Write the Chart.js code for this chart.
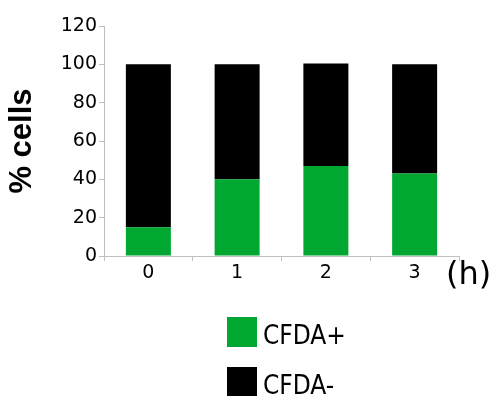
<!DOCTYPE html>
<html lang="en">

<head>
    <meta charset="UTF-8">
    <title>% cells CFDA</title>
    <style>
        body {
            margin: 0;
            padding: 0;
            background-color: #fff;
        }
    </style>
    <script src="https://cdn.jsdelivr.net/npm/chart.js"></script>
</head>

<body>
    <canvas id="cfdaChart" width="493" height="396"></canvas>

    <script>
        // data
        const hours = ['0', '1', '2', '3'];
        const cfdaPlus = [15, 40, 47, 43];
        const cfdaMinus = [85, 60, 53.5, 57];
        const yTicks = [0, 20, 40, 60, 80, 100, 120];

        const GREEN = '#00a832';
        const AXIS = '#bfbfbf';
        const tickFont = { family: 'DejaVu Sans', size: 19 };

        // legend block + "(h)" under the axis, drawn by hand
        const extras = {
            id: 'extras',
            afterDraw(chart) {
                const ctx = chart.ctx;
                ctx.save();
                ctx.fillStyle = '#000';
                ctx.font = '32px "DejaVu Sans"';
                ctx.textAlign = 'left';
                ctx.textBaseline = 'middle';
                ctx.fillText('(h)', 446, 276);

                const items = chart.data.datasets;
                const rows = [332, 382];
                ctx.font = '26px "DejaVu Sans Condensed", "DejaVu Sans"';
                items.forEach((ds, i) => {
                    ctx.fillStyle = ds.backgroundColor;
                    ctx.fillRect(227, rows[i] - 15, 30, 30);
                    ctx.fillStyle = '#000';
                    ctx.fillText(ds.label, 263, rows[i] + 5);
                });
                ctx.restore();
            }
        };

        new Chart(document.getElementById('cfdaChart'), {
            type: 'bar',
            data: {
                labels: hours,
                datasets: [
                    { label: 'CFDA+', data: cfdaPlus, backgroundColor: GREEN },
                    { label: 'CFDA-', data: cfdaMinus, backgroundColor: '#000000' }
                ]
            },
            options: {
                responsive: false,
                animation: false,
                layout: { padding: { left: 0, right: 34, top: 26, bottom: 0 } },
                plugins: {
                    legend: { display: false },
                    tooltip: { enabled: false }
                },
                datasets: {
                    bar: { categoryPercentage: 1, barPercentage: 0.507 }
                },
                scales: {
                    x: {
                        stacked: true,
                        grid: { drawOnChartArea: false, drawTicks: true, tickLength: 5, color: AXIS },
                        border: { color: AXIS },
                        ticks: { font: tickFont, color: '#000', padding: 1 },
                        afterFit: (s) => { s.height = 140; }
                    },
                    y: {
                        stacked: true,
                        min: 0,
                        max: 120,
                        afterBuildTicks: (s) => { s.ticks = yTicks.map(v => ({ value: v })); },
                        grid: { drawOnChartArea: false, drawTicks: true, tickLength: 5, color: AXIS },
                        border: { color: AXIS },
                        ticks: { font: tickFont, color: '#000', padding: 2 },
                        title: {
                            display: true,
                            text: '% cells',
                            color: '#000',
                            font: { family: 'Liberation Sans', size: 31, weight: 'bold' },
                            padding: { top: 4, bottom: 0 }
                        },
                        afterFit: (s) => { s.width = 104; }
                    }
                }
            },
            plugins: [extras]
        });
    </script>
</body>

</html>
